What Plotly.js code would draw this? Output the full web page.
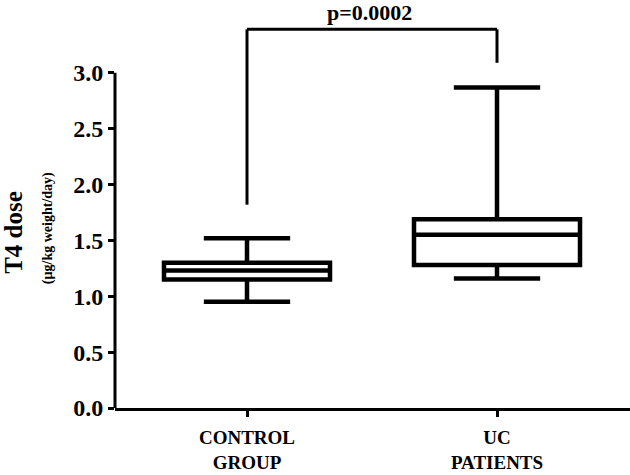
<!DOCTYPE html>
<html>
<head>
<meta charset="utf-8">
<script src="https://cdn.plot.ly/plotly-3.0.1.min.js"></script>
<style>body{margin:0;background:#fff}#chart{width:630px;height:475px}</style>
</head>
<body>
<div id="chart"></div>
<script>
const categories = ["CONTROL<br>GROUP", "UC<br>PATIENTS"];
const lowerWhisker = [0.95, 1.16];
const q1Values = [1.15, 1.28];
const medianValues = [1.23, 1.55];
const q3Values = [1.30, 1.69];
const upperWhisker = [1.52, 2.87];
const yTicks = [0, 0.5, 1.0, 1.5, 2.0, 2.5, 3.0];
const bracketTop = 3.39;
const bracketLegs = [1.82, 3.09];
const pText = "p=0.0002";

const font = "'Liberation Serif', 'Times New Roman', serif";

const traces = categories.map((c, i) => ({
  type: "box",
  x: [c],
  q1: [q1Values[i]],
  median: [medianValues[i]],
  q3: [q3Values[i]],
  lowerfence: [lowerWhisker[i]],
  upperfence: [upperWhisker[i]],
  width: 0.664,
  whiskerwidth: 0.52,
  fillcolor: "#ffffff",
  line: {color: "#000000", width: 4.5},
  boxpoints: false,
  showlegend: false,
  hoverinfo: "skip"
}));

const shapes = [
  {type: "line", xref: "paper", yref: "y", x0: 0, x1: 0, y0: 0, y1: 3.0,
   line: {color: "#000", width: 3}},
  {type: "line", xref: "x", yref: "y", x0: categories[0], x1: categories[0], y0: bracketLegs[0], y1: bracketTop,
   line: {color: "#000", width: 3}},
  {type: "line", xref: "x", yref: "y", x0: categories[1], x1: categories[1], y0: bracketLegs[1], y1: bracketTop,
   line: {color: "#000", width: 3}},
  {type: "line", xref: "x", yref: "y", x0: categories[0], x1: categories[1], y0: bracketTop, y1: bracketTop,
   line: {color: "#000", width: 3}}
];

const layout = {
  width: 630, height: 475,
  margin: {l: 115, r: 0, t: 17, b: 67},
  paper_bgcolor: "#fff", plot_bgcolor: "#fff",
  showlegend: false,
  xaxis: {
    type: "category",
    range: [-0.528, 1.532],
    showline: true, linecolor: "#000", linewidth: 3,
    ticks: "outside", ticklen: 6, tickwidth: 3, tickcolor: "#000",
    ticklabelstandoff: 4,
    showgrid: false, zeroline: false,
    tickfont: {family: font, size: 19, color: "#000", weight: "bold"},
    fixedrange: true
  },
  yaxis: {
    range: [0, 3.5],
    showline: false,
    tickvals: yTicks,
    tickformat: ".1f",
    ticks: "outside", ticklen: 6, tickwidth: 3, tickcolor: "#000",
    showgrid: false, zeroline: false,
    tickfont: {family: font, size: 24, color: "#000", weight: "bold"},
    fixedrange: true
  },
  shapes: shapes,
  annotations: [
    {text: pText, xref: "paper", yref: "paper", x: 0.495, y: 1.0, yshift: 5,
     xanchor: "center", yanchor: "middle", showarrow: false,
     font: {family: font, size: 22, color: "#000", weight: "bold"}},
    {text: "T4 dose", xref: "paper", yref: "paper", x: 0, xshift: -101, y: 0.448,
     xanchor: "center", yanchor: "middle", textangle: -90, showarrow: false,
     font: {family: font, size: 25, color: "#000", weight: "bold"}},
    {text: "(µg/kg weight/day)", xref: "paper", yref: "paper", x: 0, xshift: -67, y: 0.46,
     xanchor: "center", yanchor: "middle", textangle: -90, showarrow: false,
     font: {family: font, size: 14, color: "#000", weight: "bold"}}
  ]
};

Plotly.newPlot("chart", traces, layout, {displayModeBar: false, staticPlot: true});
</script>
</body>
</html>
